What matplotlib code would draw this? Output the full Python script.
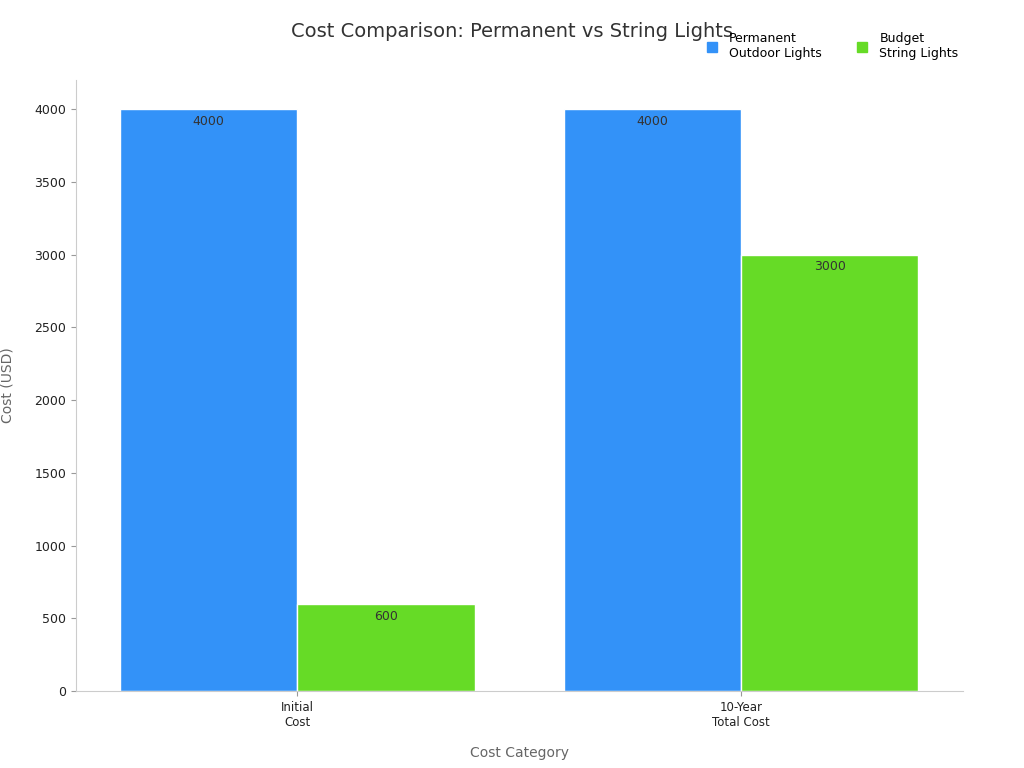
import numpy as np
import matplotlib.pyplot as plt
from matplotlib.lines import Line2D

categories = ["Initial\nCost", "10-Year\nTotal Cost"]
permanent = [4000, 4000]
string_lights = [600, 3000]
series_names = ["Permanent\nOutdoor Lights", "Budget\nString Lights"]
colors = ["#3392F8", "#66DB26"]

fig = plt.figure(figsize=(10.24, 7.68), dpi=100)
ax = fig.add_axes([0.074, 0.100, 0.866, 0.796])

x = np.arange(len(categories))
w = 0.4
for off, vals, c in [(-w / 2, permanent, colors[0]), (w / 2, string_lights, colors[1])]:
    bars = ax.bar(x + off, vals, width=w, color=c, edgecolor="white", linewidth=1)
    for b, v in zip(bars, vals):
        ax.text(b.get_x() + b.get_width() / 2, v - 40, f"{v}", ha="center", va="top",
                fontsize=9, color="#333333")

ax.set_xlim(-0.5, 1.5)
ax.set_ylim(0, 4200)
ax.set_yticks(range(0, 4001, 500))
ax.set_xticks(x)
ax.set_xticklabels(categories, fontsize=8.5, color="#222222")
ax.tick_params(axis="y", labelsize=9, colors="#222222")
ax.tick_params(axis="both", color="#999999")
for s in ["top", "right"]:
    ax.spines[s].set_visible(False)
for s in ["left", "bottom"]:
    ax.spines[s].set_color("#cccccc")
ax.set_xlabel("Cost Category", fontsize=10, color="#666666", labelpad=12)
ax.set_ylabel("Cost (USD)", fontsize=10, color="#666666", labelpad=14)

fig.suptitle("Cost Comparison: Permanent vs String Lights", fontsize=14, color="#333333",
             x=0.5, y=0.972)

handles = [Line2D([], [], marker="s", linestyle="", color=c, markersize=7) for c in colors]
fig.legend(handles, series_names, loc="upper right", bbox_to_anchor=(0.947, 0.973), ncol=2,
           frameon=False, fontsize=9, handletextpad=0.4, columnspacing=2.2)

fig.savefig("out.png", dpi=100)
